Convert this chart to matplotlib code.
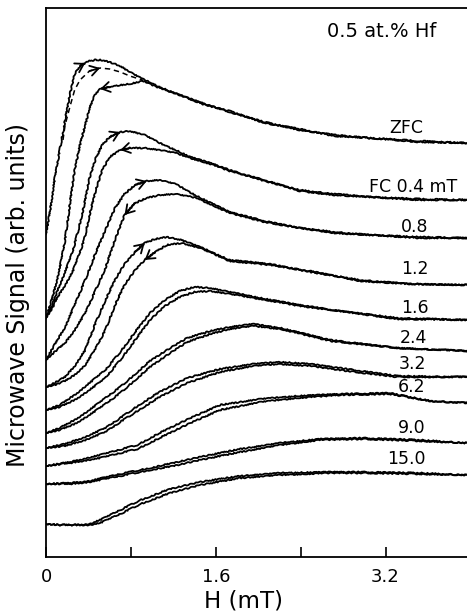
"""
Microwave signal vs field: ZFC and FC hysteresis loops, 0.5 at.% Hf sample.
Curves are offset vertically, as in the original figure.
"""

import matplotlib

matplotlib.use("Agg")
import matplotlib.pyplot as plt


# ---- data (H in mT, signal in arb. units, offsets included) ----
H_zfc = [0.00, 0.04, 0.08, 0.13, 0.18, 0.23, 0.27, 0.32, 0.37, 0.41, 0.46, 0.51, 0.60,
         0.70, 0.79, 0.91, 1.07, 1.26, 1.50, 1.73, 2.06, 2.39, 2.72, 3.05, 3.52, 3.97]
zfc_up = [32.3, 34.7, 37.7, 40.7, 43.7, 46.5, 48.3, 49.1, 49.4, 49.6, 49.7, 49.7, 49.5,
          49.1, 48.5, 47.8, 47.0, 46.2, 45.3, 44.5, 43.5, 42.7, 42.2, 41.9, 41.6, 41.4]
zfc_down = [23.9, 25.2, 26.7, 28.9, 31.7, 35.7, 38.7, 41.2, 43.2, 44.9, 46.2, 46.8, 47.0,
            47.2, 47.3, 47.6, 46.9, 46.2, 45.2, 44.6, 43.4, 42.8, 42.1, 41.9, 41.5, 41.4]
H_zfc_dash = [0.16, 0.18, 0.23, 0.27, 0.32, 0.41, 0.51, 0.60, 0.70, 0.79, 0.91]
zfc_dash = [41.7, 43.2, 45.2, 46.7, 47.7, 48.6, 48.9, 48.8, 48.5, 48.1, 47.7]

H_fc04 = [0.00, 0.06, 0.11, 0.18, 0.25, 0.30, 0.36, 0.41, 0.47, 0.53, 0.60, 0.70, 0.79,
          0.93, 1.07, 1.22, 1.36, 1.55, 1.73, 2.06, 2.39, 2.72, 3.05, 3.52, 3.97]
fc04_up = [23.9, 25.2, 26.7, 28.5, 30.5, 32.5, 35.2, 37.9, 39.9, 41.2, 42.0, 42.5, 42.6,
           42.2, 41.4, 40.7, 40.0, 39.4, 38.7, 37.6, 36.7, 36.3, 36.0, 35.8, 35.7]
fc04_down = [23.9, 24.9, 26.0, 27.2, 28.5, 29.9, 31.7, 34.2, 36.7, 38.7, 40.0, 40.7, 40.9,
             40.9, 40.7, 40.4, 39.9, 39.3, 38.6, 37.7, 36.6, 36.2, 36.0, 35.7, 35.7]

H_fc08 = [0.00, 0.08, 0.18, 0.27, 0.37, 0.46, 0.56, 0.65, 0.74, 0.84, 0.95, 1.07, 1.22,
          1.42, 1.73, 2.06, 2.39, 2.72, 3.05, 3.52, 3.97]
fc08_up = [19.7, 21.2, 23.0, 25.2, 27.7, 30.2, 32.7, 34.9, 36.3, 37.2, 37.6, 37.7, 37.3,
           36.1, 34.5, 33.6, 32.9, 32.5, 32.2, 32.0, 31.9]
fc08_down = [19.7, 20.5, 21.4, 22.7, 24.4, 26.5, 28.9, 31.7, 34.2, 35.4, 35.9, 36.2, 36.3,
             35.9, 34.4, 33.5, 32.9, 32.4, 32.2, 31.9, 31.9]

H_fc12 = [0.00, 0.08, 0.18, 0.27, 0.37, 0.46, 0.56, 0.65, 0.74, 0.84, 0.93, 1.03, 1.14,
          1.28, 1.45, 1.73, 2.11, 2.49, 2.96, 3.43, 3.97]
fc12_up = [17.0, 17.4, 18.0, 19.1, 20.7, 23.2, 25.7, 27.7, 29.3, 30.5, 31.4, 31.8, 32.0,
           31.7, 31.0, 29.7, 29.3, 28.5, 27.7, 27.3, 27.2]
fc12_down = [17.0, 17.2, 17.6, 18.2, 19.2, 20.7, 22.7, 25.2, 27.2, 28.7, 29.7, 30.5, 31.2,
             31.4, 30.9, 29.6, 29.2, 28.6, 27.6, 27.3, 27.2]

H_fc16 = [0.00, 0.13, 0.27, 0.41, 0.56, 0.70, 0.84, 0.98, 1.12, 1.26, 1.40, 1.55, 1.73,
          2.02, 2.39, 2.77, 3.31, 3.97]
fc16_up = [14.7, 15.2, 16.2, 17.4, 18.7, 20.5, 22.5, 24.4, 25.7, 26.6, 27.0, 26.9, 26.5,
           25.9, 25.2, 24.6, 23.9, 23.7]
fc16_down = [14.7, 15.0, 15.7, 16.7, 17.9, 19.7, 21.7, 23.7, 25.1, 26.0, 26.5, 26.6, 26.3,
             25.8, 25.1, 24.6, 23.8, 23.7]

H_fc24 = [0.00, 0.13, 0.27, 0.41, 0.56, 0.70, 0.84, 0.98, 1.17, 1.33, 1.55, 1.73, 1.95,
          2.21, 2.68, 3.31, 3.97]
fc24_up = [12.4, 12.9, 13.7, 14.7, 15.9, 17.0, 18.3, 19.6, 20.9, 21.9, 22.6, 23.0, 23.3,
           22.9, 21.7, 20.9, 20.6]
fc24_down = [12.4, 12.7, 13.3, 14.2, 15.3, 16.4, 17.7, 19.0, 20.4, 21.5, 22.3, 22.8, 23.1,
             22.8, 21.6, 20.9, 20.6]

H_fc32 = [0.00, 0.18, 0.37, 0.56, 0.70, 0.89, 1.07, 1.33, 1.64, 1.95, 2.21, 2.49, 2.84,
          3.31, 3.97]
fc32_up = [10.9, 11.3, 12.0, 12.9, 13.9, 15.3, 16.5, 17.9, 18.8, 19.3, 19.5, 19.3, 18.8,
           18.1, 18.0]
fc32_down = [10.9, 11.1, 11.7, 12.5, 13.5, 14.8, 16.0, 17.4, 18.5, 19.1, 19.3, 19.1, 18.6,
             18.0, 18.0]

H_fc62 = [0.00, 0.23, 0.51, 0.86, 1.07, 1.36, 1.64, 2.02, 2.37, 2.77, 3.24, 3.62, 3.97]
fc62_up = [9.1, 9.5, 10.2, 11.2, 12.4, 13.9, 15.2, 15.8, 16.1, 16.3, 16.4, 15.6, 15.4]
fc62_down = [9.1, 9.4, 9.9, 10.8, 11.9, 13.4, 14.7, 15.5, 15.9, 16.2, 16.3, 15.6, 15.4]

H_fc90 = [0.00, 0.23, 0.41, 0.70, 0.98, 1.20, 1.45, 1.83, 2.21, 2.58, 2.99, 3.52, 3.97]
fc90_up = [7.3, 7.4, 7.6, 8.3, 8.9, 9.4, 10.0, 10.8, 11.4, 11.8, 11.9, 11.7, 11.4]
fc90_down = [7.3, 7.3, 7.5, 8.1, 8.7, 9.1, 9.7, 10.5, 11.2, 11.7, 11.8, 11.6, 11.4]

H_fc150 = [0.00, 0.13, 0.27, 0.41, 0.51, 0.70, 0.89, 1.17, 1.45, 1.83, 2.21, 2.68, 2.99,
           3.52, 3.97]
fc150_up = [3.3, 3.2, 3.2, 3.3, 3.7, 4.7, 5.7, 6.8, 7.5, 8.1, 8.4, 8.5, 8.5, 8.4, 8.2]
fc150_down = [3.3, 3.2, 3.2, 3.2, 3.4, 4.3, 5.3, 6.4, 7.2, 7.9, 8.2, 8.4, 8.4, 8.3, 8.2]

curve_labels = ["ZFC", "FC 0.4 mT", "0.8", "1.2", "1.6", "2.4", "3.2", "6.2", "9.0", "15.0"]
tick_values = [0, 1.6, 3.2]
tick_labels = ["0", "1.6", "3.2"]


plt.rcParams["font.family"] = ["DejaVu Sans"]
fig = plt.figure(figsize=(4.67, 6.14), dpi=100)
ax = fig.add_axes([46 / 467, 57 / 614, 421 / 467, 549 / 614])

loops = [
    (H_zfc, zfc_up, zfc_down),
    (H_fc04, fc04_up, fc04_down),
    (H_fc08, fc08_up, fc08_down),
    (H_fc12, fc12_up, fc12_down),
    (H_fc16, fc16_up, fc16_down),
    (H_fc24, fc24_up, fc24_down),
    (H_fc32, fc32_up, fc32_down),
    (H_fc62, fc62_up, fc62_down),
    (H_fc90, fc90_up, fc90_down),
    (H_fc150, fc150_up, fc150_down),
]
for H, up, down in loops:
    for branch in (up, down):
        (ln,) = ax.plot(H, branch, color="black", lw=1.3, solid_joinstyle="round")
        ln.set_sketch_params(scale=0.6, length=4, randomness=6)

ax.plot(H_zfc_dash, zfc_dash, color="black", lw=1.1, dashes=(3.5, 2.5))


def mark_arrow(H, s, i, j):
    # arrowhead drawn on the segment i -> j of a branch
    ax.annotate("", xy=(H[j], s[j]), xytext=(H[i], s[i]),
                arrowprops=dict(arrowstyle="->,head_length=0.45,head_width=0.28",
                                color="black", lw=1.3, shrinkA=0, shrinkB=0,
                                mutation_scale=13))


mark_arrow(H_zfc, zfc_up, 7, 8)
mark_arrow(H_zfc_dash, zfc_dash, 5, 6)
mark_arrow(H_zfc, zfc_down, 12, 11)
mark_arrow(H_fc04, fc04_up, 10, 11)
mark_arrow(H_fc04, fc04_down, 12, 11)
mark_arrow(H_fc08, fc08_up, 9, 10)
mark_arrow(H_fc08, fc08_down, 9, 8)
mark_arrow(H_fc12, fc12_up, 9, 10)
mark_arrow(H_fc12, fc12_down, 11, 10)

# curve labels near the right edge
label_pos = [(3.40, 42.9), (3.46, 37.0), (3.47, 33.0), (3.48, 28.8), (3.48, 24.9),
             (3.46, 21.9), (3.45, 19.3), (3.45, 17.0), (3.45, 12.9), (3.40, 9.8)]
for txt, (x, y) in zip(curve_labels, label_pos):
    ax.text(x, y, txt, ha="center", va="center", fontsize=12.5)
ax.text(3.16, 52.5, "0.5 at.% Hf", ha="center", va="center", fontsize=14)

ax.set_xlim(0, 3.968)
ax.set_ylim(0, 54.9)
ax.set_xticks(tick_values)
ax.set_xticklabels(tick_labels, fontsize=13)
ax.set_xticks([0.8, 2.4], minor=True)
ax.tick_params(axis="x", which="both", direction="in", length=7, width=1.2, pad=8)
ax.set_yticks([])
ax.spines["right"].set_visible(False)
for side in ("left", "bottom", "top"):
    ax.spines[side].set_linewidth(1.3)

fig.text(243 / 467, 1 - 601 / 614, "H (mT)", ha="center", va="center", fontsize=16.5)
fig.text(18 / 467, 1 - 295 / 614, "Microwave Signal (arb. units)", rotation=90,
         ha="center", va="center", fontsize=17)

fig.savefig("out.png", dpi=100)
plt.close()
